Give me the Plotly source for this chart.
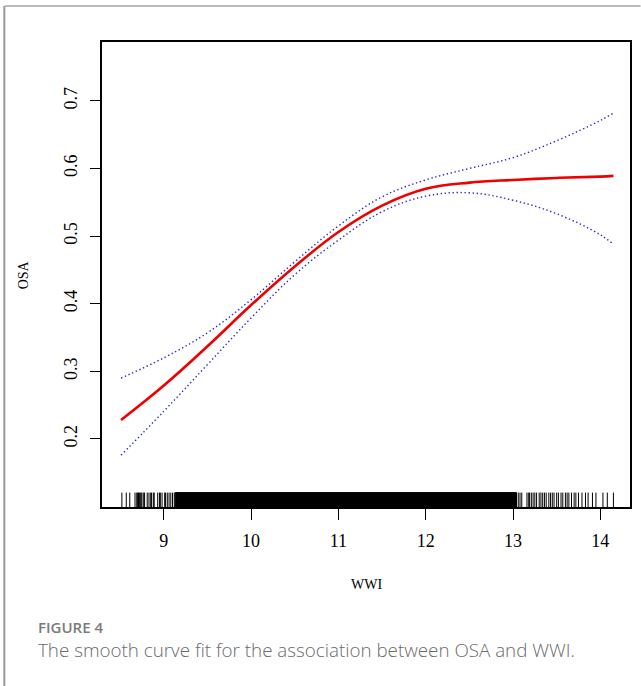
import plotly.graph_objects as go

# ---- data ----
wwi = [8.51, 9.0, 9.5, 10.0, 10.5, 11.0, 11.5, 12.0, 12.5, 13.0, 13.5, 14.0, 14.15]
osa_fit = [0.228, 0.279, 0.337, 0.398, 0.455, 0.506, 0.545, 0.570, 0.579, 0.583, 0.586, 0.588, 0.589]
osa_upper = [0.290, 0.320, 0.357, 0.406, 0.462, 0.515, 0.558, 0.583, 0.600, 0.616, 0.641, 0.671, 0.682]
osa_lower = [0.176, 0.241, 0.310, 0.379, 0.443, 0.494, 0.536, 0.559, 0.564, 0.553, 0.533, 0.502, 0.488]

# rug: sparse observations in the tails, and the solid dense range in the middle
rug_left = [8.52, 8.57, 8.61, 8.67, 8.69, 8.70, 8.71, 8.72, 8.73, 8.74, 8.75, 8.77, 8.78,
            8.81, 8.83, 8.85, 8.86, 8.88, 8.89, 8.93, 8.95, 8.96, 8.98, 9.01, 9.02, 9.04,
            9.06, 9.08, 9.10, 9.12]
rug_dense = [9.13, 13.04]
rug_right = [13.06, 13.08, 13.10, 13.16, 13.18, 13.19, 13.21, 13.23, 13.25, 13.27, 13.30,
             13.32, 13.34, 13.36, 13.38, 13.41, 13.43, 13.45, 13.47, 13.50, 13.52, 13.55,
             13.57, 13.60, 13.62, 13.64, 13.67, 13.70, 13.72, 13.75, 13.79, 13.83, 13.86,
             13.91, 13.95, 14.03, 14.08, 14.15]

x_ticks = [9, 10, 11, 12, 13, 14]
y_ticks = [0.2, 0.3, 0.4, 0.5, 0.6, 0.7]

RUG_H = 0.031

fig = go.Figure()

# dense rug band
fig.add_trace(go.Scatter(
    x=[rug_dense[0], rug_dense[1], rug_dense[1], rug_dense[0], rug_dense[0]],
    y=[0, 0, RUG_H, RUG_H, 0], yaxis="y2", mode="lines", fill="toself",
    fillcolor="black", line=dict(color="black", width=1), hoverinfo="skip", showlegend=False))

# sparse rug ticks
rx, ry = [], []
for v in rug_left + rug_right:
    rx += [v, v, None]
    ry += [0, RUG_H, None]
fig.add_trace(go.Scatter(x=rx, y=ry, yaxis="y2", mode="lines",
                         line=dict(color="black", width=1), hoverinfo="skip", showlegend=False))

# confidence bands
for band in (osa_upper, osa_lower):
    fig.add_trace(go.Scatter(x=wwi, y=band, mode="lines",
                             line=dict(color="#2a2ad0", width=1.4, dash="1.4px,2.6px",
                                       shape="spline", smoothing=1.1),
                             showlegend=False))

# fitted curve
fig.add_trace(go.Scatter(x=wwi, y=osa_fit, mode="lines",
                         line=dict(color="#ee0000", width=2.6, shape="spline", smoothing=1.1),
                         showlegend=False))

serif = "Liberation Serif, DejaVu Serif, serif"

fig.update_layout(
    width=641, height=686,
    margin=dict(l=102, r=9, t=42, b=179),
    paper_bgcolor="white", plot_bgcolor="white",
    xaxis=dict(range=[8.292, 14.34], tickvals=x_ticks, ticktext=[str(t) for t in x_ticks],
               ticks="outside", ticklen=11, tickwidth=1.2, tickcolor="black",
               showline=True, linecolor="black", linewidth=1.5, mirror=True,
               showgrid=False, zeroline=False,
               tickfont=dict(family=serif, size=18, color="black"),
               ticklabelstandoff=6),
    yaxis=dict(range=[0.0994, 0.787], tickvals=y_ticks, ticktext=[f"{t:.1f}" for t in y_ticks],
               ticks="outside", ticklen=10, tickwidth=1.2, tickcolor="black",
               showline=True, linecolor="black", linewidth=1.5, mirror=True,
               showgrid=False, zeroline=False, tickangle=-90,
               tickfont=dict(family=serif, size=18, color="black"),
               ticklabelstandoff=6),
    yaxis2=dict(overlaying="y", range=[0, 1], visible=False, showgrid=False, zeroline=False),
    showlegend=False,
)

# axis titles
fig.add_annotation(text="WWI", xref="paper", yref="paper", x=0.5, y=-0.166,
                   showarrow=False, font=dict(family=serif, size=14, color="black"),
                   xanchor="center", yanchor="middle")
fig.add_annotation(text="OSA", xref="paper", yref="paper", x=-0.148, y=0.5, textangle=-90,
                   showarrow=False, font=dict(family=serif, size=14, color="black"),
                   xanchor="center", yanchor="middle")

# caption
fig.add_annotation(text="FIGURE 4", xref="paper", yref="paper",
                   x=-0.125, y=-0.258, xanchor="left", yanchor="middle", showarrow=False,
                   font=dict(family="Open Sans, Noto Sans, sans-serif", size=15, color="#7a7a7a",
                             weight=600))
fig.add_annotation(text="The smooth curve fit for the association between OSA and WWI.",
                   xref="paper", yref="paper", x=-0.125, y=-0.307, xanchor="left", yanchor="middle",
                   showarrow=False,
                   font=dict(family="Open Sans, Noto Sans, sans-serif", size=18.8, color="#6a6a6a",
                             weight=300))

# page frame lines
fig.add_shape(type="line", xref="paper", yref="paper", x0=-0.184, x1=1.02, y0=1.0775, y1=1.0775,
              line=dict(color="#bbbbbb", width=2))
fig.add_shape(type="line", xref="paper", yref="paper", x0=-0.185, x1=-0.185, y0=1.0775, y1=-0.40,
              line=dict(color="#9a9a9a", width=2))

fig.write_html("out.html")
